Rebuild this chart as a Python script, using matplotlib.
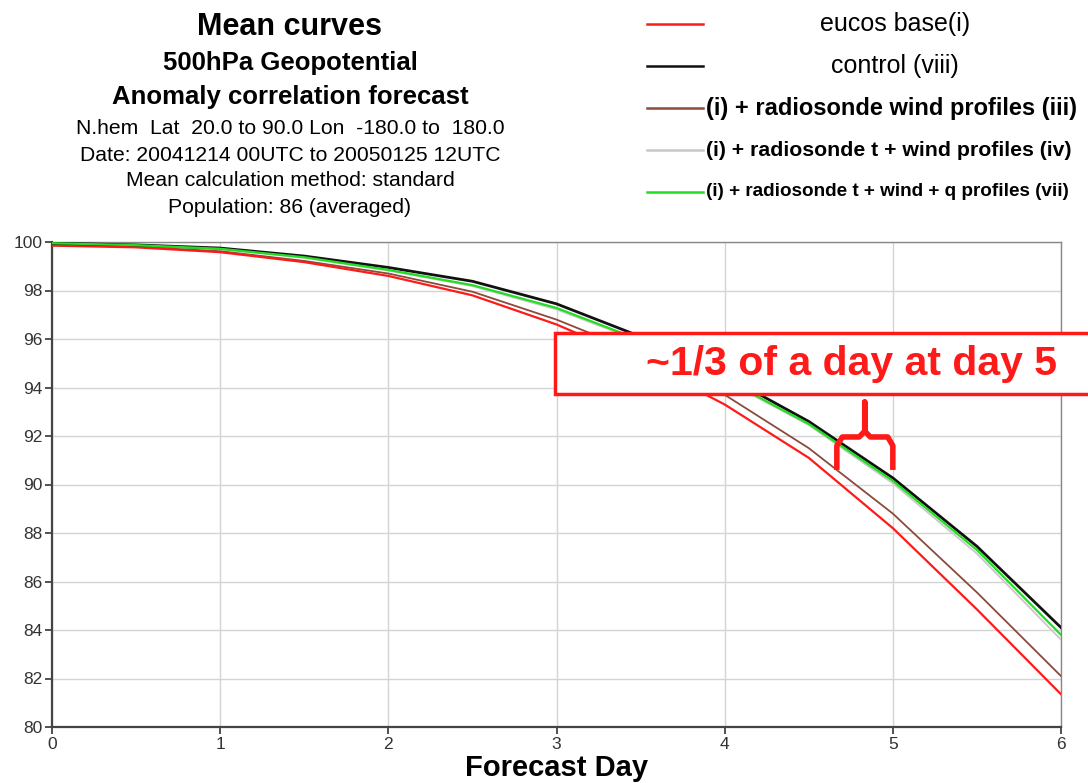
import numpy as np
import matplotlib
matplotlib.use('Agg')
import matplotlib.pyplot as plt
from matplotlib.patches import Rectangle

plt.rcParams['font.family'] = ['Liberation Sans', 'DejaVu Sans']

####### data

days = [0, 0.5, 1, 1.5, 2, 2.5, 3, 3.5, 4, 4.5, 5, 5.5, 6]

eucos_i = [99.85, 99.78, 99.58, 99.17, 98.6, 97.8, 96.6, 95.1, 93.3, 91.1, 88.2, 84.85, 81.35]
control_viii = [99.95, 99.88, 99.75, 99.42, 98.95, 98.38, 97.45, 96.1, 94.5, 92.6, 90.27, 87.45, 84.1]
wind_iii = [99.88, 99.8, 99.62, 99.22, 98.7, 97.95, 96.8, 95.4, 93.7, 91.5, 88.8, 85.55, 82.1]
t_wind_iv = [99.94, 99.86, 99.7, 99.35, 98.82, 98.18, 97.22, 95.9, 94.3, 92.45, 90.05, 87.15, 83.6]
t_wind_q_vii = [99.95, 99.87, 99.72, 99.37, 98.85, 98.22, 97.28, 95.95, 94.35, 92.5, 90.15, 87.3, 83.8]

labels = ['eucos base(i)', 'control (viii)',
          '(i) + radiosonde wind profiles (iii)',
          '(i) + radiosonde t + wind profiles (iv)',
          '(i) + radiosonde t + wind + q profiles (vii)']
colors = ['#ff1a1a', '#111111', '#8b4a3a', '#c8c8c8', '#22dd22']

title_lines = ['Mean curves', '500hPa Geopotential', 'Anomaly correlation forecast',
               'N.hem  Lat  20.0 to 90.0 Lon  -180.0 to  180.0',
               'Date: 20041214 00UTC to 20050125 12UTC',
               'Mean calculation method: standard',
               'Population: 86 (averaged)']

####### figure

fig = plt.figure(figsize=(10.88, 7.83), dpi=100)
ax = fig.add_axes([52/1088, 1-727/783, (1061-52)/1088, (727-242)/783])

ax.plot(days, t_wind_iv, color=colors[3], lw=1.3, zorder=3)
ax.plot(days, wind_iii, color=colors[2], lw=1.3, zorder=3)
ax.plot(days, eucos_i, color=colors[0], lw=1.6, zorder=4)
ax.plot(days, t_wind_q_vii, color=colors[4], lw=1.6, zorder=5)
ax.plot(days, control_viii, color=colors[1], lw=2.0, zorder=4)

ax.set_xlim(0, 6)
ax.set_ylim(80, 100)
ax.set_xticks(range(0, 7))
ax.set_yticks(range(80, 101, 2))
ax.grid(True, color='#d4d4d4', lw=1.0)
ax.tick_params(labelsize=12.5, colors='#333333', length=5, width=1.2, pad=2)
for s in ['left', 'bottom']:
    ax.spines[s].set_color('#444444')
    ax.spines[s].set_linewidth(1.6)
for s in ['top', 'right']:
    ax.spines[s].set_color('#888888')
    ax.spines[s].set_linewidth(1.0)
ax.set_xlabel('Forecast Day', fontsize=21, fontweight='bold', labelpad=2)

# title block
ty = [0.9655, 0.9195, 0.876, 0.8365, 0.802, 0.769, 0.7344]
tsz = [22, 18.5, 18.5, 15.2, 15.2, 15.2, 15.2]
tw = ['bold', 'bold', 'bold', 'normal', 'normal', 'normal', 'normal']
for line, y, s, w in zip(title_lines, ty, tsz, tw):
    fig.text(0.2665, y, line, ha='center', va='center', fontsize=s, fontweight=w)

# legend drawn by hand
ly = [0.9693, 0.9157, 0.862, 0.8084, 0.7548]
lsz = [18, 18, 17, 15.3, 13.6]
for i in range(5):
    fig.add_artist(plt.Line2D([647/1088, 703/1088], [ly[i], ly[i]], color=colors[i],
                              lw=1.8, transform=fig.transFigure))
    if i < 2:
        fig.text(0.8226, ly[i], labels[i], ha='center', va='center', fontsize=lsz[i])
    else:
        fig.text(706/1088, ly[i], labels[i], ha='left', va='center', fontsize=lsz[i],
                 fontweight='bold')

# annotation box
box = Rectangle((555/1088, 1-394/783), 0.5, 61/783, transform=fig.transFigure,
                facecolor='white', edgecolor='#ff1a1a', lw=2.5, zorder=10)
fig.add_artist(box)
fig.text(0.783, 1-364/783, '~1/3 of a day at day 5', ha='center', va='center',
         fontsize=29.5, fontweight='bold', color='#ff1a1a', zorder=11)

# bracket
bx = [4.667, 4.667, 4.70, 4.80, 4.833, 4.833, 4.833, 4.866, 4.97, 5.0, 5.0]
by = [90.6, 91.6, 91.96, 91.96, 92.2, 93.4, 92.2, 91.96, 91.96, 91.6, 90.6]
ax.plot(bx, by, color='#ff1a1a', lw=4, solid_capstyle='butt', solid_joinstyle='round',
        zorder=12, clip_on=False)

fig.savefig('out.png', dpi=100)
